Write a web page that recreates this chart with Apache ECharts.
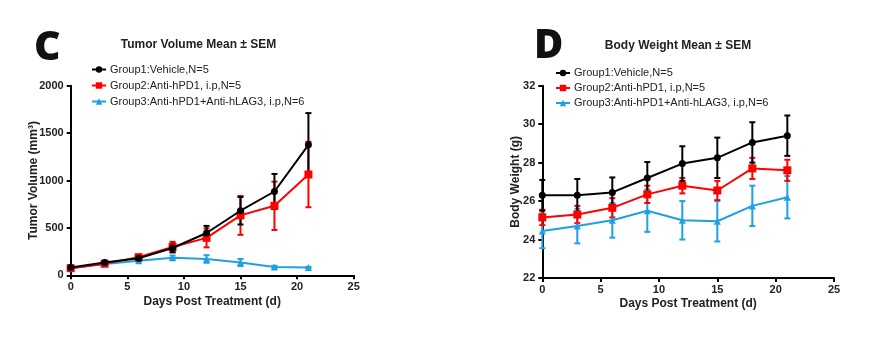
<!DOCTYPE html>
<html>
<head>
<meta charset="utf-8">
<script src="https://cdn.jsdelivr.net/npm/echarts@6/dist/echarts.min.js"></script>
<style>
html,body{margin:0;padding:0;background:#fff;}
#c{width:880px;height:337px;}
</style>
</head>
<body>
<div id="c"></div>
<script>
// ---- data ----
var days = [0, 3, 6, 9, 12, 15, 18, 21];
var groupNames = ['Group1:Vehicle,N=5', 'Group2:Anti-hPD1, i.p,N=5', 'Group3:Anti-hPD1+Anti-hLAG3, i.p,N=6'];

var tvMean1 = [82, 135, 180, 288, 446, 681, 884, 1376];
var tvSem1  = [10, 15, 20, 45, 75, 145, 185, 335];
var tvMean2 = [75, 123, 190, 298, 395, 632, 733, 1063];
var tvSem2  = [10, 15, 30, 55, 100, 205, 255, 345];
var tvMean3 = [75, 118, 154, 186, 172, 135, 88, 81];
var tvSem3  = [8, 10, 15, 22, 40, 38, 12, 8];

var bwMean1 = [26.3, 26.3, 26.45, 27.2, 27.95, 28.25, 29.05, 29.4];
var bwSem1  = [0.8, 0.85, 0.78, 0.83, 0.9, 1.05, 1.05, 1.05];
var bwMean2 = [25.15, 25.3, 25.65, 26.35, 26.8, 26.55, 27.7, 27.6];
var bwSem2  = [0.4, 0.45, 0.5, 0.45, 0.4, 0.5, 0.55, 0.55];
var bwMean3 = [24.45, 24.7, 25.0, 25.5, 25.0, 24.95, 25.75, 26.2];
var bwSem3  = [0.9, 0.9, 0.9, 1.1, 1.0, 1.05, 1.05, 1.1];

var xTicks = [0, 5, 10, 15, 20, 25];
var tvTicks = [0, 500, 1000, 1500, 2000];
var bwTicks = [22, 24, 26, 28, 30, 32];
// ---- end data ----

var colors = ['#000000', '#ff0000', '#1ea0e4'];
var symbols = ['circle', 'rect', 'triangle'];
var symbolSizes = [7, 8, 7];
var FONT = 'Liberation Sans, Arial, sans-serif';

function pairs(xs, ys) { return xs.map(function (x, i) { return [x, ys[i]]; }); }
function triples(xs, ys, es) { return xs.map(function (x, i) { return [x, ys[i], es[i]]; }); }

function errRender(color) {
  return function (params, api) {
    var x = api.value(0), y = api.value(1), e = api.value(2);
    var top = api.coord([x, y + e]);
    var bot = api.coord([x, y - e]);
    var w = 3;
    var st = { stroke: color, lineWidth: 2 };
    return {
      type: 'group',
      children: [
        { type: 'line', shape: { x1: top[0], y1: top[1], x2: bot[0], y2: bot[1] }, style: st },
        { type: 'line', shape: { x1: top[0] - w, y1: top[1], x2: top[0] + w, y2: top[1] }, style: st },
        { type: 'line', shape: { x1: bot[0] - w, y1: bot[1], x2: bot[0] + w, y2: bot[1] }, style: st }
      ]
    };
  };
}

function xAxisCfg(gi) {
  return {
    type: 'value', gridIndex: gi, min: xTicks[0], max: xTicks[xTicks.length - 1], interval: xTicks[1] - xTicks[0],
    name: 'Days Post Treatment (d)', nameLocation: 'middle', nameGap: 20, nameMoveOverlap: false,
    nameTextStyle: { fontFamily: FONT, fontWeight: 'bold', fontSize: 12, color: '#222' },
    axisLine: { show: true, lineStyle: { color: '#000', width: 2 } },
    axisTick: { show: true, length: 4, lineStyle: { color: '#000', width: 2 } },
    axisLabel: { fontFamily: FONT, fontWeight: 'bold', fontSize: 11, color: '#222', margin: 6 },
    splitLine: { show: false }
  };
}
function yAxisCfg(gi, ticks, name, gap) {
  return {
    type: 'value', gridIndex: gi, min: ticks[0], max: ticks[ticks.length - 1], interval: ticks[1] - ticks[0],
    name: name, nameLocation: 'middle', nameGap: gap, nameMoveOverlap: false,
    nameTextStyle: { fontFamily: FONT, fontWeight: 'bold', fontSize: 12, color: '#222' },
    axisLine: { show: true, lineStyle: { color: '#000', width: 2 } },
    axisTick: { show: true, length: 4, lineStyle: { color: '#000', width: 2 } },
    axisLabel: { fontFamily: FONT, fontWeight: 'bold', fontSize: 11, color: '#222', margin: 7,
                 formatter: function (v) { return String(v); } },
    splitLine: { show: false }
  };
}

var series = [];
function addGroup(gi, idx, means, sems) {
  series.push({
    type: 'custom', xAxisIndex: gi, yAxisIndex: gi, z: (idx === 0 ? 5 : idx === 1 ? 4 : 3),
    renderItem: errRender(colors[idx]), data: triples(days, means, sems), silent: true
  });
  series.push({
    type: 'line', name: groupNames[idx], xAxisIndex: gi, yAxisIndex: gi,
    z: (idx === 0 ? 6 : idx === 1 ? 5 : 4),
    data: pairs(days, means), symbol: symbols[idx], symbolSize: symbolSizes[idx],
    lineStyle: { color: colors[idx], width: 2 }, itemStyle: { color: colors[idx] },
    showSymbol: true, animation: false
  });
}
[2, 1, 0].forEach(function (i) {
  addGroup(0, i, [tvMean1, tvMean2, tvMean3][i], [tvSem1, tvSem2, tvSem3][i]);
  addGroup(1, i, [bwMean1, bwMean2, bwMean3][i], [bwSem1, bwSem2, bwSem3][i]);
});

function legendCfg(left, top, gap) {
  return {
    orient: 'vertical', left: left, top: top, itemWidth: 14, itemHeight: 8, itemGap: gap,
    data: groupNames.slice(),
    textStyle: { fontFamily: FONT, fontSize: 11, color: '#222', padding: [0, 0, 0, -1] },
    selectedMode: false
  };
}

var chart = echarts.init(document.getElementById('c'), null, { renderer: 'canvas' });
chart.setOption({
  animation: false,
  backgroundColor: '#fff',
  grid: [
    { left: 70.7, right: 880 - 353.7, top: 85.7, bottom: 337 - 275.3 },
    { left: 542.3, right: 880 - 834, top: 85.7, bottom: 337 - 278 }
  ],
  xAxis: [xAxisCfg(0), xAxisCfg(1)],
  yAxis: [yAxisCfg(0, tvTicks, 'Tumor Volume (mm³)', 31), yAxisCfg(1, bwTicks, 'Body Weight (g)', 21)],
  legend: [legendCfg(86, 59, 5), legendCfg(550, 62.5, 4)],
  graphic: [
    { type: 'text', left: 34, top: 28, style: { text: 'C', font: '800 41px "Open Sans", sans-serif', fill: '#111' } },
    { type: 'text', left: 534, top: 27, style: { text: 'D', font: '800 40px "Open Sans", sans-serif', fill: '#111' } },
    { type: 'text', x: 198.5, y: 45, style: { text: 'Tumor Volume Mean ± SEM', font: 'bold 12px ' + FONT, fill: '#222', align: 'center', verticalAlign: 'middle' } },
    { type: 'text', x: 678, y: 46, style: { text: 'Body Weight Mean ± SEM', font: 'bold 12px ' + FONT, fill: '#222', align: 'center', verticalAlign: 'middle' } }
  ],
  series: series
});
</script>
</body>
</html>
